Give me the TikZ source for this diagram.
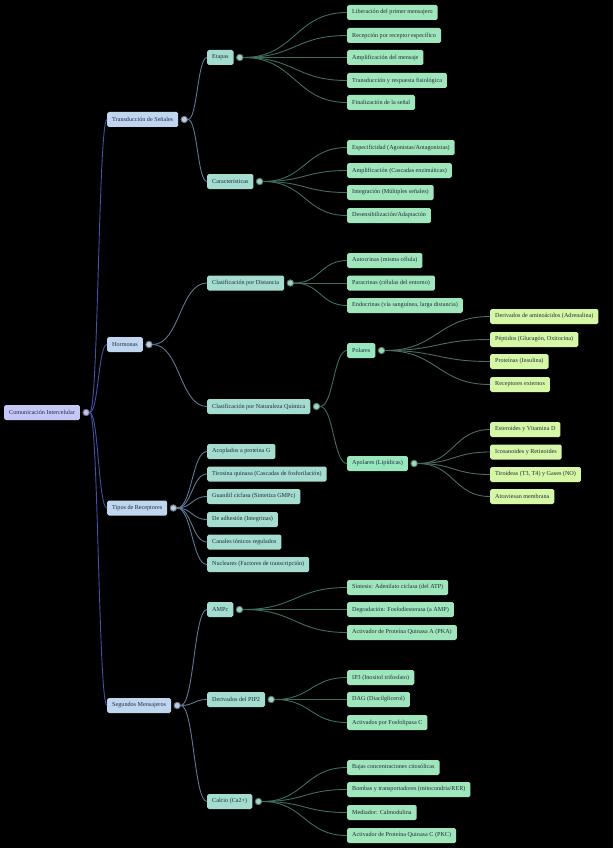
\documentclass[tikz,border=0pt]{standalone}
\usepackage{fontspec}
\setmainfont{Liberation Serif}
\usetikzlibrary{calc}
\definecolor{bgc}{HTML}{000000}
\definecolor{rootc}{HTML}{C5C7F6}
\definecolor{lonec}{HTML}{C0D5F0}
\definecolor{ltwoc}{HTML}{A4DCCF}
\definecolor{leafc}{HTML}{A0E6BC}
\definecolor{polc}{HTML}{98E6BE}
\definecolor{yleafc}{HTML}{D5F7A6}
\definecolor{txtc}{HTML}{1E2B3A}
\definecolor{linea}{HTML}{4650A8}
\definecolor{lineb}{HTML}{5E7896}
\definecolor{linec}{HTML}{3F6E5E}
\definecolor{lined}{HTML}{4C6C5E}
\tikzset{
  box/.style={rectangle, rounded corners=1.6pt, anchor=west, minimum height=15pt,
    inner xsep=5pt, inner ysep=0pt, text=txtc, font=\fontsize{6.15}{7}\selectfont, draw=none},
  rootbox/.style={box, fill=rootc},
  onebox/.style={box, fill=lonec},
  twobox/.style={box, fill=ltwoc},
  leafbox/.style={box, fill=leafc},
  polbox/.style={box, fill=polc},
  yleafbox/.style={box, fill=yleafc},
  dotbase/.style={circle, inner sep=0pt, minimum size=6.4pt, line width=0.9pt},
  dota/.style={dotbase, fill=rootc!90!gray, draw=rootc!55!black},
  dotb/.style={dotbase, fill=lonec!90!gray, draw=lonec!55!black},
  dotc/.style={dotbase, fill=ltwoc!90!gray, draw=ltwoc!55!black},
  dotd/.style={dotbase, fill=polc!90!gray, draw=polc!55!black},
  conna/.style={draw=linea, line width=0.9pt},
  connb/.style={draw=lineb, line width=0.9pt},
  connc/.style={draw=linec, line width=0.9pt},
  connd/.style={draw=lined, line width=0.9pt},
}
\newcommand{\linkto}[3]{%
  \draw[#3] let \p1=(#1.east), \p2=(#2.west), \n1={0.5*(\x2-\x1)} in
    (\p1) .. controls (\x1+\n1,\y1) and (\x2-\n1,\y2) .. (\p2);}
\begin{document}
\begin{tikzpicture}[x=1pt,y=-1pt]
\fill[bgc] (0,0) rectangle (613,848);
\useasboundingbox (0,0) rectangle (613,848);

% root
\node[rootbox] (root) at (4,412.5) {Comunicación Intercelular};

% level 1
\node[onebox] (ts) at (107,119.5) {Transducción de Señales};
\node[onebox] (ho) at (107,344.5) {Hormonas};
\node[onebox] (tr) at (107,508) {Tipos de Receptores};
\node[onebox] (sm) at (107,705.5) {Segundos Mensajeros};

% level 2
\node[twobox] (et) at (207,57.5) {Etapas};
\node[twobox] (ca) at (207,181.5) {Características};
\node[twobox] (cd) at (207,283) {Clasificación por Distancia};
\node[twobox] (cq) at (207,406.5) {Clasificación por Naturaleza Química};
\node[twobox] (ra) at (207,451.5) {Acoplados a proteína G};
\node[twobox] (rb) at (207,474) {Tirosina quinasa (Cascadas de fosforilación)};
\node[twobox] (rc) at (207,496.5) {Guanilil ciclasa (Sintetiza GMPc)};
\node[twobox] (rd) at (207,519.5) {De adhesión (Integrinas)};
\node[twobox] (re) at (207,542) {Canales iónicos regulados};
\node[twobox] (rf) at (207,564.5) {Nucleares (Factores de transcripción)};
\node[twobox] (am) at (207,609.5) {AMPc};
\node[twobox] (pi) at (207,699.5) {Derivados del PIP2};
\node[twobox] (cl) at (207,801.5) {Calcio (Ca2+)};

% Polares / Apolares
\node[polbox] (po) at (347,350.5) {Polares};
\node[polbox] (ap) at (347,463.5) {Apolares (Lipídicas)};

% leaves: Etapas
\node[leafbox] (e1) at (347,12.5) {Liberación del primer mensajero};
\node[leafbox] (e2) at (347,35.5) {Recepción por receptor específico};
\node[leafbox] (e3) at (347,57.5) {Amplificación del mensaje};
\node[leafbox] (e4) at (347,80.5) {Transducción y respuesta fisiológica};
\node[leafbox] (e5) at (347,102.5) {Finalización de la señal};
% Caracteristicas
\node[leafbox] (c1) at (347,147.5) {Especificidad (Agonistas/Antagonistas)};
\node[leafbox] (c2) at (347,170.5) {Amplificación (Cascadas enzimáticas)};
\node[leafbox] (c3) at (347,192.5) {Integración (Múltiples señales)};
\node[leafbox] (c4) at (347,215.5) {Desensibilización/Adaptación};
% Distancia
\node[leafbox] (d1) at (347,260.5) {Autocrinas (misma célula)};
\node[leafbox] (d2) at (347,283) {Paracrinas (células del entorno)};
\node[leafbox] (d3) at (347,305.5) {Endocrinas (vía sanguínea, larga distancia)};
% Polares children
\node[yleafbox] (p1) at (490,316.5) {Derivados de aminoácidos (Adrenalina)};
\node[yleafbox] (p2) at (490,339.5) {Péptidos (Glucagón, Oxitocina)};
\node[yleafbox] (p3) at (490,361.5) {Proteínas (Insulina)};
\node[yleafbox] (p4) at (490,384.5) {Receptores externos};
% Apolares children
\node[yleafbox] (a1) at (490,429.5) {Esteroides y Vitamina D};
\node[yleafbox] (a2) at (490,452) {Icosanoides y Retinoides};
\node[yleafbox] (a3) at (490,474.5) {Tiroideas (T3, T4) y Gases (NO)};
\node[yleafbox] (a4) at (490,496.5) {Atraviesan membrana};
% AMPc
\node[leafbox] (m1) at (347,587.5) {Síntesis: Adenilato ciclasa (del ATP)};
\node[leafbox] (m2) at (347,609.5) {Degradación: Fosfodiesterasa (a AMP)};
\node[leafbox] (m3) at (347,632.5) {Activador de Proteína Quinasa A (PKA)};
% PIP2
\node[leafbox] (q1) at (347,677.5) {IP3 (Inositol trifosfato)};
\node[leafbox] (q2) at (347,699.5) {DAG (Diacilglicerol)};
\node[leafbox] (q3) at (347,722.5) {Activados por Fosfolipasa C};
% Calcio
\node[leafbox] (k1) at (347,767.5) {Bajas concentraciones citosólicas};
\node[leafbox] (k2) at (347,789.5) {Bombas y transportadores (mitocondria/RER)};
\node[leafbox] (k3) at (347,812.5) {Mediador: Calmodulina};
\node[leafbox] (k4) at (347,835.5) {Activador de Proteína Quinasa C (PKC)};

% connector dots (placed beside their parents)
\node[dota] (rootd) at ([xshift=6pt]root.east) {};
\node[dotb] (tsd) at ([xshift=6pt]ts.east) {};
\node[dotb] (hod) at ([xshift=6pt]ho.east) {};
\node[dotb] (trd) at ([xshift=6pt]tr.east) {};
\node[dotb] (smd) at ([xshift=6pt]sm.east) {};
\node[dotc] (etd) at ([xshift=6pt]et.east) {};
\node[dotc] (cad) at ([xshift=6pt]ca.east) {};
\node[dotc] (cdd) at ([xshift=6pt]cd.east) {};
\node[dotc] (cqd) at ([xshift=6pt]cq.east) {};
\node[dotc] (amd) at ([xshift=6pt]am.east) {};
\node[dotc] (pid) at ([xshift=6pt]pi.east) {};
\node[dotc] (cld) at ([xshift=6pt]cl.east) {};
\node[dotd] (pod) at ([xshift=6pt]po.east) {};
\node[dotd] (apd) at ([xshift=6pt]ap.east) {};

% connectors
\foreach \c in {ts,ho,tr,sm} {\linkto{rootd}{\c}{conna}}
\foreach \c in {et,ca} {\linkto{tsd}{\c}{connb}}
\foreach \c in {cd,cq} {\linkto{hod}{\c}{connb}}
\foreach \c in {ra,rb,rc,rd,re,rf} {\linkto{trd}{\c}{connb}}
\foreach \c in {am,pi,cl} {\linkto{smd}{\c}{connb}}
\foreach \c in {e1,e2,e3,e4,e5} {\linkto{etd}{\c}{connc}}
\foreach \c in {c1,c2,c3,c4} {\linkto{cad}{\c}{connc}}
\foreach \c in {d1,d2,d3} {\linkto{cdd}{\c}{connc}}
\foreach \c in {po,ap} {\linkto{cqd}{\c}{connc}}
\foreach \c in {p1,p2,p3,p4} {\linkto{pod}{\c}{connd}}
\foreach \c in {a1,a2,a3,a4} {\linkto{apd}{\c}{connd}}
\foreach \c in {m1,m2,m3} {\linkto{amd}{\c}{connc}}
\foreach \c in {q1,q2,q3} {\linkto{pid}{\c}{connc}}
\foreach \c in {k1,k2,k3,k4} {\linkto{cld}{\c}{connc}}
\end{tikzpicture}
\end{document}
